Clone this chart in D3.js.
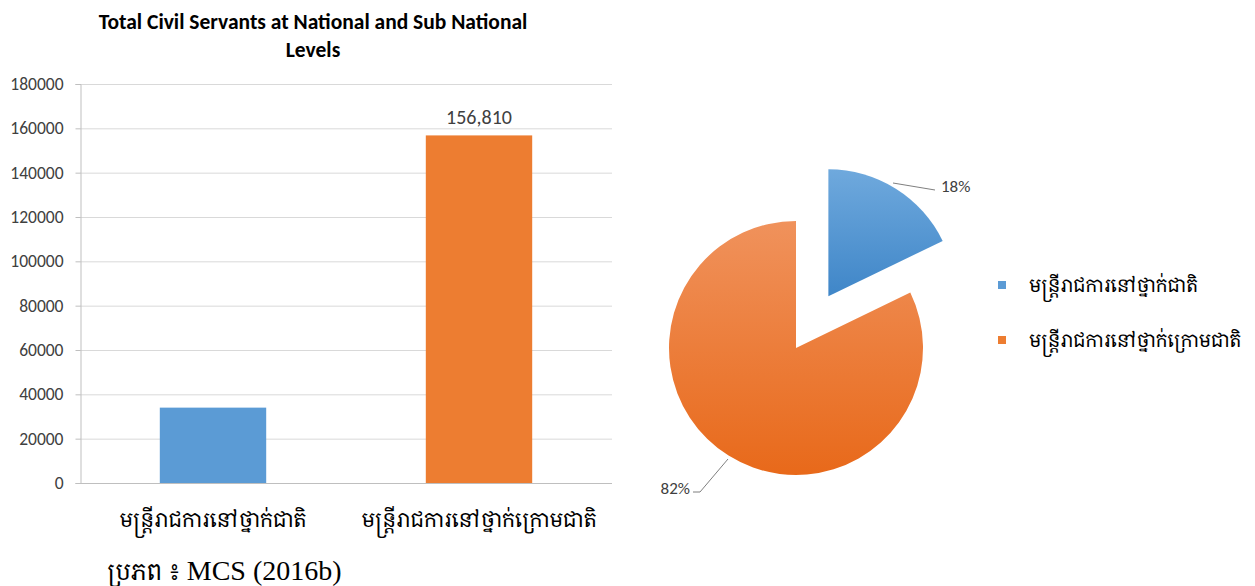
<!DOCTYPE html>
<html>
<head>
<meta charset="utf-8">
<script src="https://cdn.jsdelivr.net/npm/d3@7"></script>
<style>
  body { margin: 0; background: #fff; }
  svg { display: block; }
</style>
</head>
<body>
<div id="chart"></div>
<script>
const categories = ["មន្ត្រីរាជការនៅថ្នាក់ជាតិ", "មន្ត្រីរាជការនៅថ្នាក់ក្រោមជាតិ"];
const values = [34000, 156810];
const showValue = [false, true];
const yTicks = [0, 20000, 40000, 60000, 80000, 100000, 120000, 140000, 160000, 180000];
const titleLines = ["Total Civil Servants at National and Sub National", "Levels"];
const sourceLabel = "ប្រភព ៖ ";
const sourceRef = "MCS (2016b)";

const barColors = ["#5b9bd5", "#ed7d31"];
const khmerFont = "'Khmer OS', 'Noto Serif Khmer', 'Noto Sans Khmer', 'Liberation Serif', serif";
const latinSerif = "'Liberation Serif', 'Times New Roman', serif";
const uiFont = "Carlito, Calibri, 'Open Sans', 'Liberation Sans', sans-serif";

const W = 1255, H = 586;
const svg = d3.select("#chart").append("svg").attr("width", W).attr("height", H);

// gradients for pie slices
const defs = svg.append("defs");
const grads = [["#6fa9dd", "#3f86c8"], ["#f0925c", "#e8691a"]];
grads.forEach((g, i) => {
  const lg = defs.append("linearGradient").attr("id", `pg${i}`)
    .attr("x1", 0).attr("y1", 0).attr("x2", 0).attr("y2", 1);
  lg.append("stop").attr("offset", "0%").attr("stop-color", g[0]);
  lg.append("stop").attr("offset", "100%").attr("stop-color", g[1]);
});

// BAR CHART
const plot = { left: 80, right: 612, top: 84, bottom: 483 };
const x = d3.scaleBand().domain(categories).range([plot.left, plot.right]).paddingInner(0.6).paddingOuter(0.3);
const y = d3.scaleLinear().domain([0, 180000]).range([plot.bottom, plot.top]);

svg.append("g").selectAll("line")
  .data(yTicks)
  .join("line")
  .attr("x1", plot.left).attr("x2", plot.right)
  .attr("y1", d => y(d) + 0.5).attr("y2", d => y(d) + 0.5)
  .attr("stroke", "#d9d9d9");

const yAxis = svg.append("g")
  .attr("transform", `translate(${plot.left + 0.5},0)`)
  .call(d3.axisLeft(y).tickValues(yTicks).tickFormat(d3.format("d")).tickSize(5).tickPadding(12));
yAxis.select(".domain").attr("stroke", "#bfbfbf");
yAxis.selectAll(".tick line").attr("stroke", "#bfbfbf");
yAxis.selectAll("text").attr("fill", "#404040").style("font-size", "17.5px").style("font-family", uiFont);

svg.append("line")
  .attr("x1", plot.left).attr("x2", plot.right)
  .attr("y1", plot.bottom + 0.5).attr("y2", plot.bottom + 0.5)
  .attr("stroke", "#bfbfbf");

svg.append("g").selectAll("rect")
  .data(values)
  .join("rect")
  .attr("x", (d, i) => x(categories[i]))
  .attr("width", x.bandwidth())
  .attr("y", d => y(d))
  .attr("height", d => y(0) - y(d))
  .attr("fill", (d, i) => barColors[i]);

svg.append("g").selectAll("text")
  .data(values.map((v, i) => ({ v, i })).filter(d => showValue[d.i]))
  .join("text")
  .attr("x", d => x(categories[d.i]) + x.bandwidth() / 2)
  .attr("y", d => y(d.v) - 11)
  .attr("text-anchor", "middle")
  .attr("fill", "#404040")
  .style("font-size", "20px").style("font-family", uiFont)
  .text(d => d3.format(",")(d.v));

svg.append("g").selectAll("text")
  .data(categories)
  .join("text")
  .attr("x", d => x(d) + x.bandwidth() / 2)
  .attr("y", 527)
  .attr("text-anchor", "middle")
  .attr("fill", "#000")
  .style("font-size", "20.5px").style("font-family", khmerFont)
  .text(d => d);

svg.append("g").selectAll("text")
  .data(titleLines)
  .join("text")
  .attr("x", 313)
  .attr("y", (d, i) => 29 + i * 28)
  .attr("text-anchor", "middle")
  .attr("fill", "#000")
  .style("font-size", "21.5px").style("font-weight", "bold").style("font-family", uiFont)
  .text(d => d);

const src = svg.append("text")
  .attr("x", 107).attr("y", 580)
  .attr("fill", "#000");
src.append("tspan").style("font-size", "23px").style("font-family", khmerFont).text(sourceLabel);
src.append("tspan").style("font-size", "28px").style("font-family", latinSerif).text(sourceRef);

// PIE CHART
const cx = 796, cy = 348, r = 127, explode = 61;
const total = d3.sum(values);
const pie = d3.pie().sort(null)(values);
const arc = d3.arc().innerRadius(0).outerRadius(r);

const pieG = svg.append("g").attr("transform", `translate(${cx},${cy})`);
pieG.selectAll("path")
  .data(pie)
  .join("path")
  .attr("transform", (d, i) => {
    if (i !== 0) return null;
    const a = (d.startAngle + d.endAngle) / 2;
    return `translate(${Math.sin(a) * explode},${-Math.cos(a) * explode})`;
  })
  .attr("d", arc)
  .attr("fill", (d, i) => `url(#pg${i})`);

// pie labels with leader lines
const pct = values.map(v => Math.round(v / total * 100) + "%");
const leaders = [
  { pts: [[893 - cx, 183 - cy], [935 - cx, 190 - cy]], tx: 941 - cx, ty: 192 - cy, anchor: "start" },
  { pts: [[728 - cx, 459 - cy], [700 - cx, 492 - cy], [693 - cx, 492 - cy]], tx: 690 - cx, ty: 494 - cy, anchor: "end" }
];
leaders.forEach((l, i) => {
  pieG.append("path")
    .attr("d", d3.line()(l.pts))
    .attr("fill", "none").attr("stroke", "#7f7f7f").attr("stroke-width", 1);
  pieG.append("text")
    .attr("x", l.tx).attr("y", l.ty)
    .attr("text-anchor", l.anchor)
    .attr("fill", "#404040")
    .style("font-size", "17px").style("font-family", uiFont)
    .text(pct[i]);
});

// legend
const legend = svg.append("g").attr("transform", "translate(998,285)");
legend.selectAll("rect")
  .data(categories)
  .join("rect")
  .attr("x", 0).attr("y", (d, i) => i * 55 - 4)
  .attr("width", 8).attr("height", 8)
  .attr("fill", (d, i) => barColors[i]);
legend.selectAll("text")
  .data(categories)
  .join("text")
  .attr("x", 31).attr("y", (d, i) => i * 55 + 7)
  .attr("fill", "#000")
  .style("font-size", "18.5px").style("font-family", khmerFont)
  .text(d => d);
</script>
</body>
</html>
